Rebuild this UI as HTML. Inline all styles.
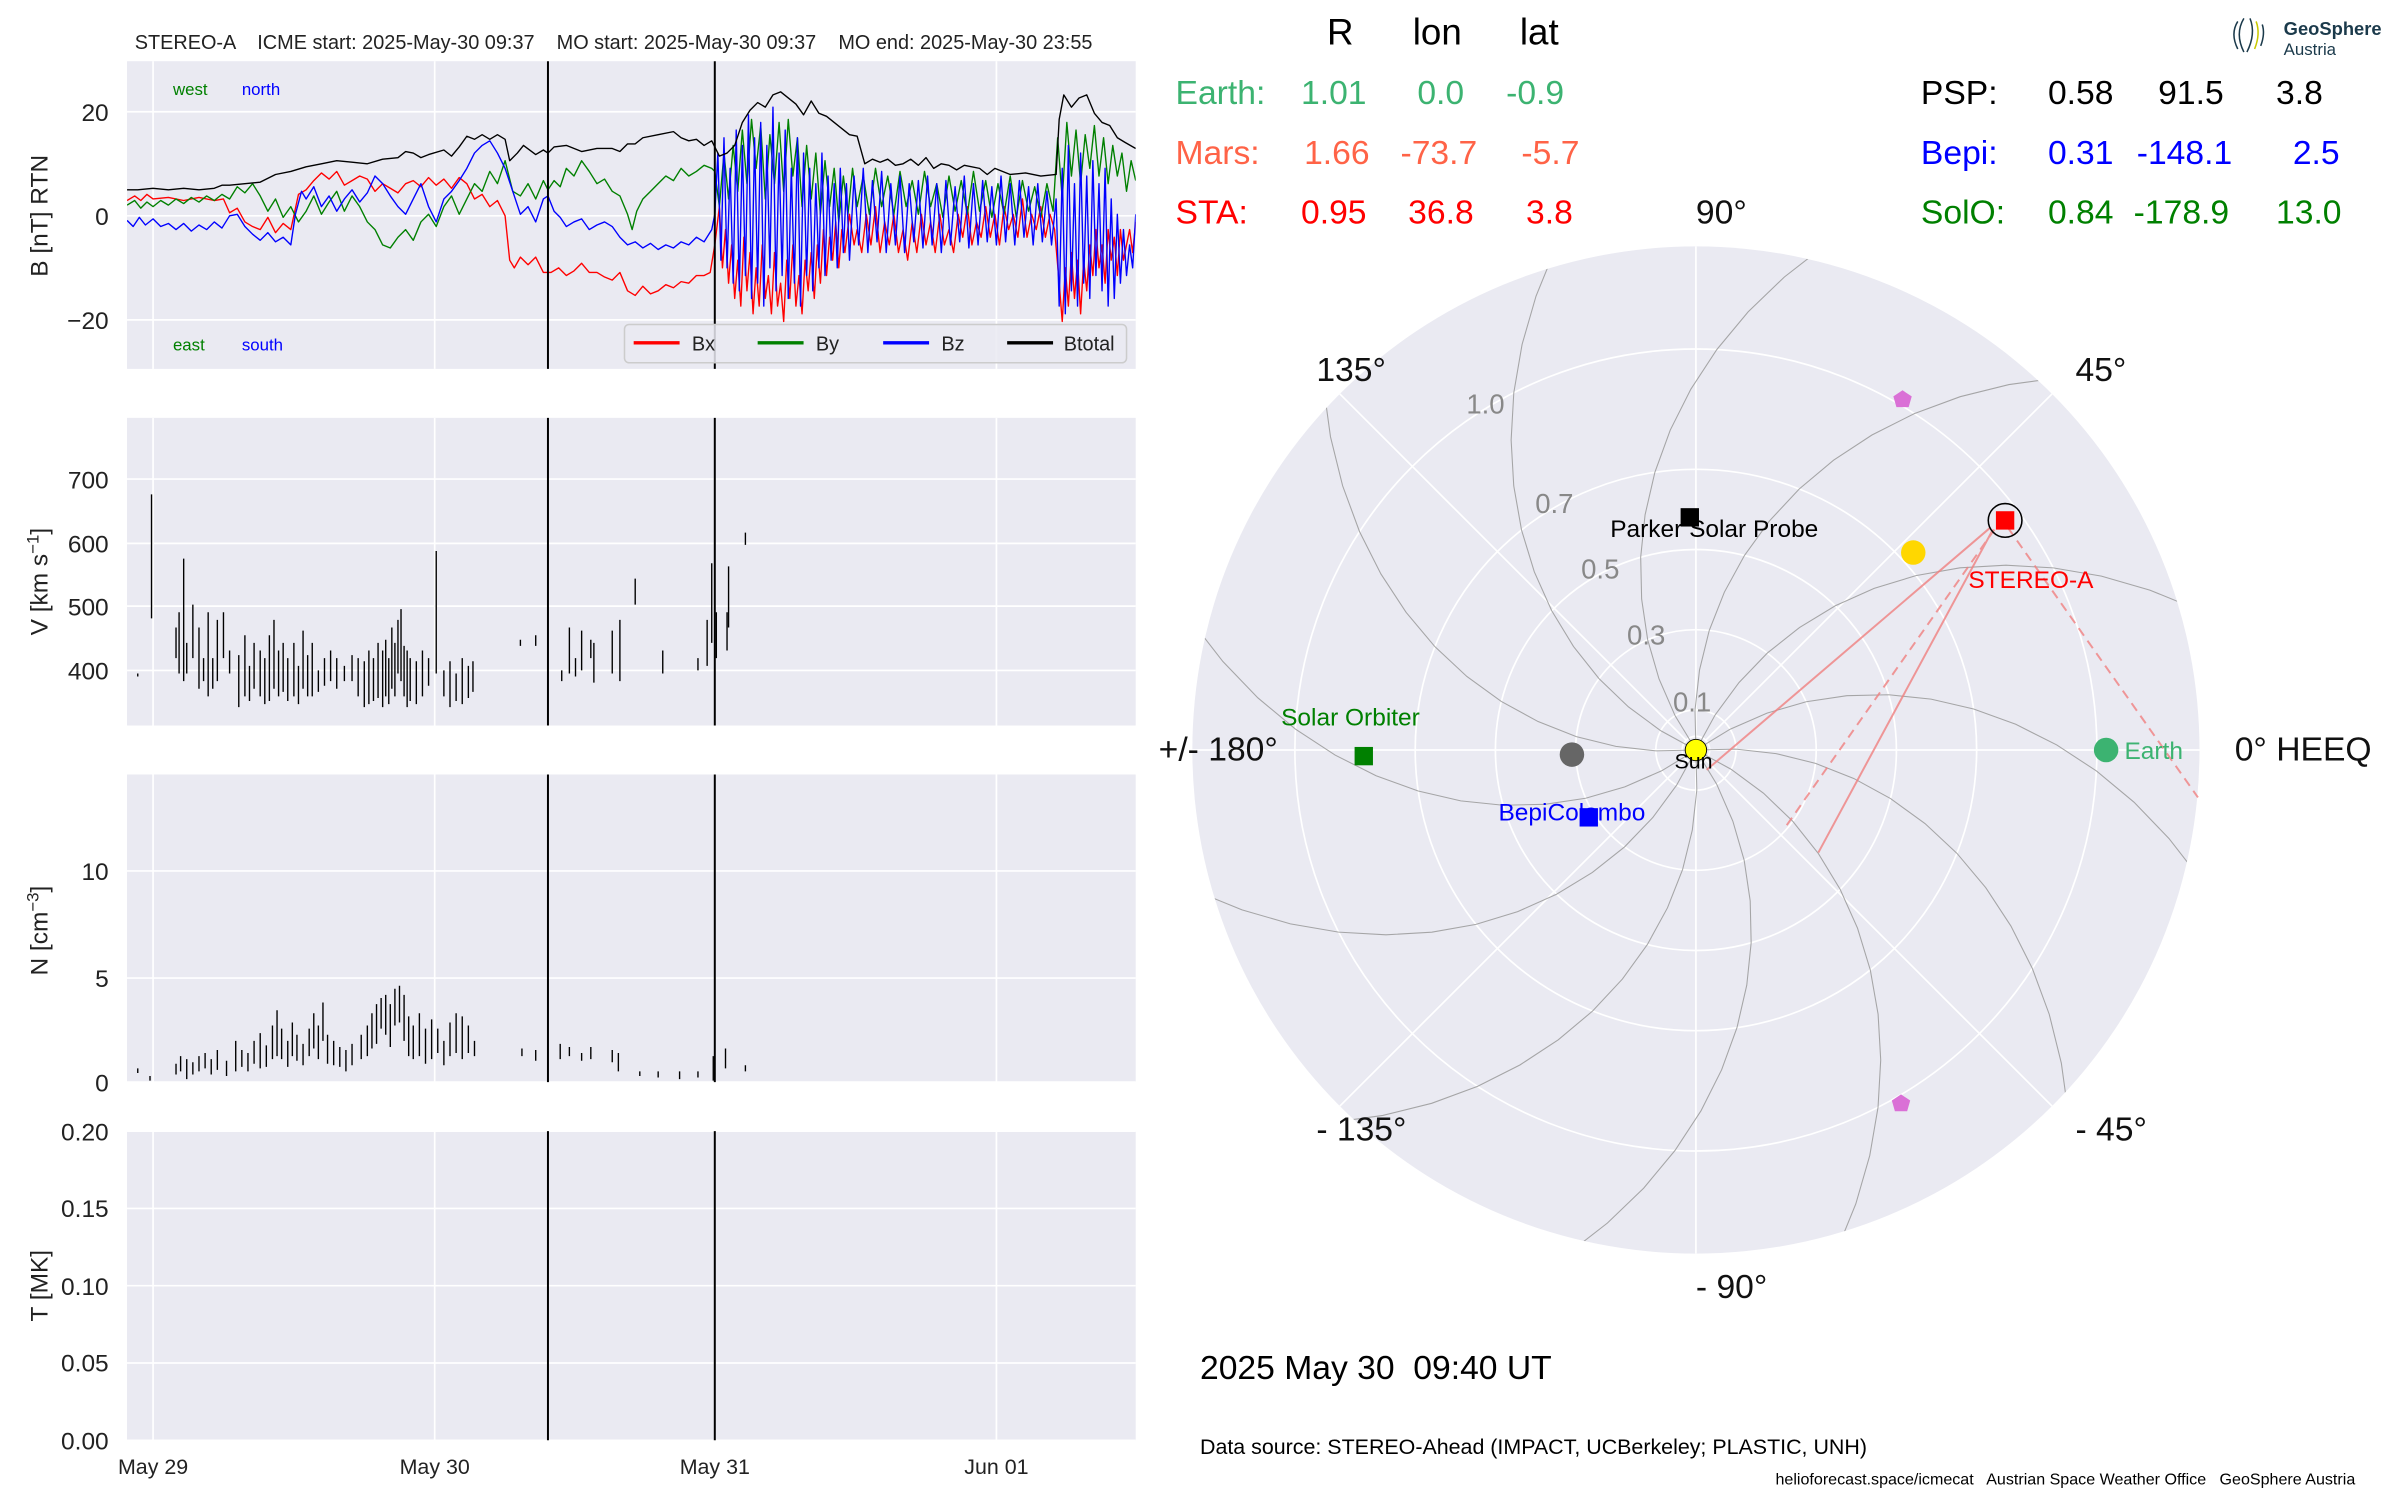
<!DOCTYPE html>
<html><head><meta charset="utf-8">
<style>
html,body{margin:0;padding:0;background:#fff;}
svg{display:block;}
text{font-family:"Liberation Sans",Arial,sans-serif;white-space:pre;}
</style></head>
<body>
<svg width="2400" height="1500" viewBox="0 0 1568 980" preserveAspectRatio="none" xmlns="http://www.w3.org/2000/svg" xmlns:xlink="http://www.w3.org/1999/xlink">
<defs>
<clipPath id="c1"><rect x="83" y="40" width="659" height="201"/></clipPath>
<clipPath id="cp"><circle cx="1108" cy="490" r="329"/></clipPath>
<path id="sp" d="M0 0 L26.1 1.7 L51.9 6.9 L77.1 15.5 L101.1 27.5 L123.9 42.7 L144.9 60.9 L164 82.1 L180.8 106.1 L195 132.5 L206.5 161.3 L214.9 192.1 L220 224.6 L221.7 258.6" fill="none" stroke="#999" stroke-width="0.7"/>
</defs>
<rect width="1568" height="980" fill="#fff"/>
<rect x="83" y="40" width="659" height="201" fill="#eaeaf2"/>
<rect x="83" y="273" width="659" height="201" fill="#eaeaf2"/>
<rect x="83" y="506" width="659" height="201" fill="#eaeaf2"/>
<rect x="83" y="739" width="659" height="202" fill="#eaeaf2"/>
<g stroke="#fff" stroke-width="1.1">
<path d="M100 40V241M284 40V241M467 40V241M651 40V241M100 273V474M284 273V474M467 273V474M651 273V474M100 506V707M284 506V707M467 506V707M651 506V707M100 739V941M284 739V941M467 739V941M651 739V941"/>
<path d="M83 73H742M83 141H742M83 209H742M83 313H742M83 355H742M83 396H742M83 438H742M83 569H742M83 639H742M83 707H742M83 739H742M83 789.5H742M83 840H742M83 890.5H742M83 941H742"/>
</g>
<g clip-path="url(#c1)" fill="none" stroke-width="0.9" stroke-linejoin="round">
<polyline stroke="red" points="83,131 88,128 92,131 96,127 100,130 110,129 120,131 130,129 140,131 146,130 150,139 155,136 160,145 165,148 170,150 175,142 180,152 185,146 190,150 195,127 200,124 205,118 210,113 215,117 220,112 225,121 230,118 235,115 240,117 245,125 250,120 255,123 260,126 265,120 270,118 275,122 280,116 285,121 290,117 295,123 300,116 305,120 310,130 315,127 320,135 325,131 330,141 333,170 336,175 340,168 345,173 350,168 355,178 360,178 365,175 370,180 375,177 380,172 385,178 390,178 395,181 400,183 405,178 410,190 415,193 420,187 425,192 430,190 435,186 440,188 445,184 450,185 455,180 460,180 464,178 467,160 470,135 472,175 474,150 476,185 478,160 480,195 482,170 484,200 486,155 488,190 490,165 492,205 494,175 496,200 498,160 500,195 502,180 504,205 506,165 508,200 510,185 512,210 514,170 516,195 518,160 520,200 522,180 524,205 526,170 528,190 530,165 532,195 534,160 536,185 538,150 540,180 542,155 544,170 546,145 548,175 550,150 552,165 555,140 558,160 560,150 563,165 566,140 569,160 572,135 575,165 578,145 581,160 584,140 587,165 590,150 593,170 596,145 599,165 602,140 605,160 608,145 611,165 614,140 617,160 620,150 623,165 626,140 629,155 632,135 635,160 638,145 641,155 644,135 647,155 650,140 653,160 656,135 659,150 662,140 665,155 668,130 671,155 674,140 677,150 680,135 683,155 686,140 689,150 692,185 694,210 696,175 698,200 700,165 702,195 704,170 706,205 708,170 710,190 712,160 714,180 716,150 718,175 720,160 722,185 724,150 726,170 728,155 730,180 732,150 734,170 736,160 738,150 740,165 742,145"/>
<polyline stroke="green" points="83,134 88,131 92,136 96,132 100,135 105,131 110,134 115,130 120,133 125,129 130,132 135,128 140,131 145,127 150,130 155,122 160,126 165,120 170,128 175,138 180,130 185,142 190,135 195,145 200,138 205,128 210,140 215,132 220,125 225,138 230,128 235,135 240,145 245,150 250,160 255,162 260,155 265,150 270,157 275,145 280,140 285,148 290,135 295,128 300,140 305,130 310,120 315,125 320,112 325,120 330,105 335,125 340,128 345,120 350,130 355,118 358,124 362,118 366,122 370,110 375,115 380,105 385,112 390,120 395,117 400,125 405,128 410,140 413,150 416,138 420,130 425,125 430,120 435,115 440,118 445,110 450,115 455,112 460,108 465,110 467,112 470,135 473,100 476,130 479,95 482,125 485,85 488,120 491,78 494,110 497,82 500,130 503,88 506,120 509,80 512,125 515,78 518,115 521,90 524,135 527,95 530,130 533,100 536,140 539,105 542,135 545,110 548,145 551,115 554,140 557,110 560,135 564,115 568,140 572,110 576,135 580,115 584,140 588,112 592,135 596,118 600,140 604,112 608,135 612,120 616,142 620,115 624,138 628,118 632,140 636,112 640,138 644,118 648,142 652,120 656,140 660,115 664,142 668,118 672,138 676,122 680,142 684,120 688,138 691,90 694,130 697,80 700,115 703,85 706,120 709,88 712,110 715,82 718,115 721,90 724,120 727,95 730,115 733,100 736,125 739,105 742,118"/>
<polyline stroke="blue" points="83,144 87,148 91,142 95,147 100,143 105,148 110,146 115,150 120,146 125,151 130,147 135,150 140,145 145,149 150,141 155,140 160,148 165,153 170,157 175,152 180,158 185,155 190,160 193,140 197,125 200,130 205,122 210,135 215,128 220,138 225,130 230,124 235,132 240,126 245,115 250,120 255,128 260,135 265,140 270,130 275,120 280,135 285,145 290,130 295,125 300,118 305,110 310,100 315,95 320,92 325,100 330,110 335,125 340,140 345,135 350,145 355,130 358,128 362,138 366,142 370,148 375,145 380,143 385,150 390,147 395,145 400,148 405,155 410,160 415,158 420,162 425,159 430,163 435,160 440,162 445,158 450,160 455,155 460,158 465,150 467,140 469,100 471,170 473,90 475,175 477,110 479,185 481,85 483,190 485,95 487,180 489,75 491,195 493,90 495,185 497,80 499,200 501,95 503,175 505,70 507,190 509,100 511,180 513,85 515,195 517,110 519,185 521,90 523,200 525,100 527,180 529,110 531,190 533,120 535,175 537,100 539,180 541,115 543,170 545,120 547,175 549,110 551,165 553,120 555,170 558,115 561,160 564,110 567,165 570,118 573,158 576,112 579,165 582,120 585,160 588,115 591,165 594,120 597,158 600,118 603,162 606,115 609,160 612,120 615,165 618,118 621,160 624,122 627,158 630,115 633,162 636,120 639,160 642,118 645,158 648,122 651,160 654,115 657,158 660,120 663,160 666,118 669,155 672,122 675,160 678,120 681,158 684,125 687,160 690,130 692,200 694,110 696,205 698,95 700,190 702,120 704,200 706,100 708,185 710,115 712,195 714,105 716,180 718,120 720,190 722,110 724,200 726,130 728,195 730,140 732,185 734,150 736,180 738,160 740,175 742,140"/>
<polyline stroke="#000" points="83,124 90,124 100,123 110,124 120,123 130,124 140,123 145,121 150,121 160,120 170,119 180,114 190,112 200,109 210,107 220,105 230,106 240,107 250,104 260,103 265,99 270,100 275,103 280,101 290,98 295,102 300,96 305,89 310,91 315,88 320,91 325,88 330,91 333,105 338,100 342,95 350,101 355,98 358,100 362,96 370,95 380,99 390,97 400,97 405,99 410,94 415,94 420,90 430,88 440,86 445,90 450,92 455,91 460,95 465,92 470,102 475,100 480,95 485,80 490,72 495,67 500,70 505,62 510,60 515,64 520,68 525,75 530,66 535,74 540,76 545,80 550,84 555,88 560,89 565,107 570,104 575,106 580,104 585,108 590,107 595,104 600,108 605,103 610,110 615,107 620,108 625,111 630,108 640,110 645,114 650,110 660,114 670,113 680,115 690,114 692,78 695,62 700,70 705,64 710,62 715,74 720,80 725,82 730,90 735,93 742,97"/>
</g>
<path stroke="#000" stroke-width="0.9" fill="none" d="M90 440V442M99 323V404M115 410V430M117 400V440M120 365V445M122 420V440M126 395V430M130 410V450M133 430V445M136 400V455M139 430V450M142 405V445M146 400V430M150 425V440M156 428V462M160 415V455M163 435V458M166 420V450M170 425V455M173 430V460M176 415V458M179 405V450M182 425V455M185 420V452M188 430V458M192 420V455M195 435V460M198 412V450M201 428V455M204 420V455M208 438V452M212 430V448M216 425V445M220 430V450M225 435V445M230 428V445M234 430V455M238 432V462M241 425V460M244 430V458M247 420V456M250 425V462M252 418V455M254 430V460M256 410V450M258 420V455M260 405V440M262 398V445M264 422V455M266 425V462M268 430V458M272 432V460M276 425V455M280 430V448M285 360V440M290 438V455M294 432V462M298 440V458M302 430V460M306 435V456M309 432V452M340 418V422M350 415V422M367 438V445M372 410V440M376 430V442M380 412V438M386 418V430M388 420V446M400 412V440M405 405V445M415 378V395M433 425V440M456 430V438M462 405V435M465 368V420M468 400V430M475 400V425M476 370V410M487 348V356"/>
<path stroke="#000" stroke-width="0.9" fill="none" d="M90 698V701M98 703V706M115 695V702M118 690V700M122 692V705M126 694V702M130 690V700M134 688V698M138 692V702M142 686V699M148 693V703M154 680V700M158 686V697M162 688V700M166 680V695M170 675V698M174 683V697M178 670V692M181 660V690M184 672V692M188 680V697M191 668V690M194 676V693M198 682V696M202 672V690M205 662V685M208 670V692M211 655V680M214 676V695M218 680V696M222 684V697M226 686V700M230 682V696M236 676V692M240 670V690M243 662V685M246 656V682M249 652V672M252 650V676M255 656V684M258 646V670M261 644V668M264 650V680M267 664V690M270 670V692M274 662V690M278 672V695M282 666V692M286 672V688M290 680V696M294 668V690M298 662V688M302 664V692M306 670V688M310 680V690M341 685V690M350 686V693M366 682V692M372 684V690M380 688V693M386 684V692M400 686V694M404 688V700M418 700V703M430 700V704M444 700V705M456 700V704M466 690V706M474 685V698M487 696V700"/>
<g stroke="#000" stroke-width="1.3">
<path d="M358 40V241M467 40V241M358 273V474M467 273V474M358 506V707M467 506V707M358 739V941M467 739V941"/>
</g>
<text x="88" y="32" font-size="13" fill="#222">STEREO-A    ICME start: 2025-May-30 09:37    MO start: 2025-May-30 09:37    MO end: 2025-May-30 23:55</text>
<g font-size="11"><text x="113" y="62" fill="green">west</text><text x="158" y="62" fill="blue">north</text>
<text x="113" y="229" fill="green">east</text><text x="158" y="229" fill="blue">south</text></g>
<rect x="408" y="212" width="328" height="25" rx="3" fill="#eaeaf2" fill-opacity="0.85" stroke="#ccc"/>
<g stroke-width="2.2"><line x1="414" y1="224" x2="444" y2="224" stroke="red"/><line x1="495" y1="224" x2="525" y2="224" stroke="green"/><line x1="577" y1="224" x2="607" y2="224" stroke="blue"/><line x1="658" y1="224" x2="688" y2="224" stroke="#000"/></g>
<g font-size="13" fill="#222"><text x="452" y="229">Bx</text><text x="533" y="229">By</text><text x="615" y="229">Bz</text><text x="695" y="229">Btotal</text></g>
<g font-size="16" fill="#222" text-anchor="end">
<text x="71" y="79">20</text><text x="71" y="147">0</text><text x="71" y="215">−20</text>
<text x="71" y="319">700</text><text x="71" y="361">600</text><text x="71" y="402">500</text><text x="71" y="444">400</text>
<text x="71" y="575">10</text><text x="71" y="645">5</text><text x="71" y="713">0</text>
<text x="71" y="745">0.20</text><text x="71" y="795">0.15</text><text x="71" y="846">0.10</text><text x="71" y="896">0.05</text><text x="71" y="947">0.00</text>
</g>
<g font-size="16" fill="#222" text-anchor="middle">
<text transform="translate(31,141) rotate(-90)">B [nT] RTN</text>
<text transform="translate(31,380) rotate(-90)">V [km s<tspan dy="-6" font-size="11">−1</tspan><tspan dy="6">]</tspan></text>
<text transform="translate(31,608) rotate(-90)">N [cm<tspan dy="-6" font-size="11">−3</tspan><tspan dy="6">]</tspan></text>
<text transform="translate(31,840) rotate(-90)">T [MK]</text>
</g>
<g font-size="14" fill="#222" text-anchor="middle">
<text x="100" y="963">May 29</text><text x="284" y="963">May 30</text><text x="467" y="963">May 31</text><text x="651" y="963">Jun 01</text>
</g>

<circle cx="1108" cy="490" r="329" fill="#eaeaf2"/>
<g clip-path="url(#cp)">
<g fill="none" stroke="#fff" stroke-width="1.1">
<circle cx="1108" cy="490" r="9"/><circle cx="1108" cy="490" r="26.2"/><circle cx="1108" cy="490" r="78.6"/><circle cx="1108" cy="490" r="131"/><circle cx="1108" cy="490" r="183.4"/><circle cx="1108" cy="490" r="262"/>
<path d="M1117 490L1448 490M1114.4 483.6L1348.4 249.6M1108 481L1108 150M1101.6 483.6L867.6 249.6M1099 490L768 490M1101.6 496.4L867.6 730.4M1108 499L1108 830M1114.4 496.4L1348.4 730.4"/>
</g>
<g transform="translate(1108,490)" opacity="0.85">
<use xlink:href="#sp" transform="rotate(-125)"/><use xlink:href="#sp" transform="rotate(-95)"/><use xlink:href="#sp" transform="rotate(-65)"/><use xlink:href="#sp" transform="rotate(-35)"/><use xlink:href="#sp" transform="rotate(-5)"/><use xlink:href="#sp" transform="rotate(25)"/><use xlink:href="#sp" transform="rotate(55)"/><use xlink:href="#sp" transform="rotate(85)"/><use xlink:href="#sp" transform="rotate(115)"/><use xlink:href="#sp" transform="rotate(145)"/><use xlink:href="#sp" transform="rotate(175)"/><use xlink:href="#sp" transform="rotate(205)"/>
</g>
</g>
<g font-size="18" fill="#888">
<text x="958" y="270">1.0</text><text x="1003" y="335">0.7</text><text x="1033" y="378">0.5</text><text x="1063" y="421">0.3</text><text x="1093" y="465">0.1</text>
</g>
<g font-size="22" fill="#111">
<text x="1108" y="146">90°</text><text x="1356" y="249">45°</text><text x="860" y="249">135°</text>
<text x="757" y="497">+/- 180°</text><text x="1460" y="497">0° HEEQ</text>
<text x="860" y="745">- 135°</text><text x="1356" y="745">- 45°</text><text x="1108" y="848">- 90°</text>
</g>
<g stroke="#f08080" stroke-width="1.3" fill="none" opacity="0.8">
<line x1="1300" y1="345" x2="1115" y2="503"/>
<line x1="1302" y1="346" x2="1188" y2="557"/>
<line x1="1303" y1="346" x2="1166" y2="541" stroke-dasharray="6,4"/>
<line x1="1312" y1="345" x2="1436" y2="521" stroke-dasharray="6,4"/>
</g>
<circle cx="1108" cy="490" r="7" fill="yellow" stroke="#000" stroke-width="0.6"/>
<text x="1094" y="502" font-size="14" fill="#000">Sun</text>
<rect x="1098" y="332" width="12" height="12" fill="#000"/>
<text x="1052" y="351" font-size="16" fill="#000">Parker Solar Probe</text>
<circle cx="1310" cy="340" r="11" fill="none" stroke="#000" stroke-width="1"/>
<rect x="1304" y="334" width="12" height="12" fill="red"/>
<text x="1286" y="384" font-size="16" fill="red">STEREO-A</text>
<circle cx="1250" cy="361" r="8" fill="#ffd700"/>
<circle cx="1376" cy="490" r="8" fill="#3cb371"/>
<text x="1388" y="496" font-size="16" fill="#3cb371">Earth</text>
<circle cx="1027" cy="493" r="8" fill="#666"/>
<rect x="1032" y="528" width="12" height="12" fill="blue"/>
<text x="979" y="536" font-size="16" fill="blue">BepiColombo</text>
<rect x="885" y="488" width="12" height="12" fill="green"/>
<text x="837" y="474" font-size="16" fill="green">Solar Orbiter</text>
<polygon points="1243,255 1249,259 1247,266 1239,266 1237,259" fill="#da70d6"/>
<polygon points="1242,715 1248,719 1246,726 1238,726 1236,719" fill="#da70d6"/>

<g font-size="24" fill="#000"><text x="867" y="29">R</text><text x="923" y="29">lon</text><text x="993" y="29">lat</text></g>
<g font-size="22">
<g fill="#3cb371"><text x="768" y="68">Earth:</text><text x="850" y="68">1.01</text><text x="926" y="68">0.0</text><text x="984" y="68">-0.9</text></g>
<g fill="#ff6347"><text x="768" y="107">Mars:</text><text x="852" y="107">1.66</text><text x="915" y="107">-73.7</text><text x="994" y="107">-5.7</text></g>
<g fill="red"><text x="768" y="146">STA:</text><text x="850" y="146">0.95</text><text x="920" y="146">36.8</text><text x="997" y="146">3.8</text></g>
<g fill="#000"><text x="1255" y="68">PSP:</text><text x="1338" y="68">0.58</text><text x="1410" y="68">91.5</text><text x="1487" y="68">3.8</text></g>
<g fill="blue"><text x="1255" y="107">Bepi:</text><text x="1338" y="107">0.31</text><text x="1396" y="107">-148.1</text><text x="1498" y="107">2.5</text></g>
<g fill="green"><text x="1255" y="146">SolO:</text><text x="1338" y="146">0.84</text><text x="1394" y="146">-178.9</text><text x="1487" y="146">13.0</text></g>
</g>
<g fill="none" stroke="#1b3a4b" stroke-width="1"><path d="M1462 14 q-5 8 0 18"/><path d="M1466 12 q-6 10 0 22"/><path d="M1470 12 q4 10 -2 22"/><path d="M1474 14 q3 8 -1 18" stroke="#c8c800"/><path d="M1478 16 q2 6 -1 14"/></g>
<text x="1492" y="23" font-size="12" font-weight="bold" fill="#1b3a4b">GeoSphere</text>
<text x="1492" y="36" font-size="11" fill="#1b3a4b">Austria</text>

<text x="784" y="901" font-size="22" fill="#000">2025 May 30  09:40 UT</text>
<text x="784" y="950" font-size="14" fill="#000">Data source: STEREO-Ahead (IMPACT, UCBerkeley; PLASTIC, UNH)</text>
<text x="1160" y="970" font-size="10.5" fill="#000">helioforecast.space/icmecat   Austrian Space Weather Office   GeoSphere Austria</text>
</svg>
</body></html>
